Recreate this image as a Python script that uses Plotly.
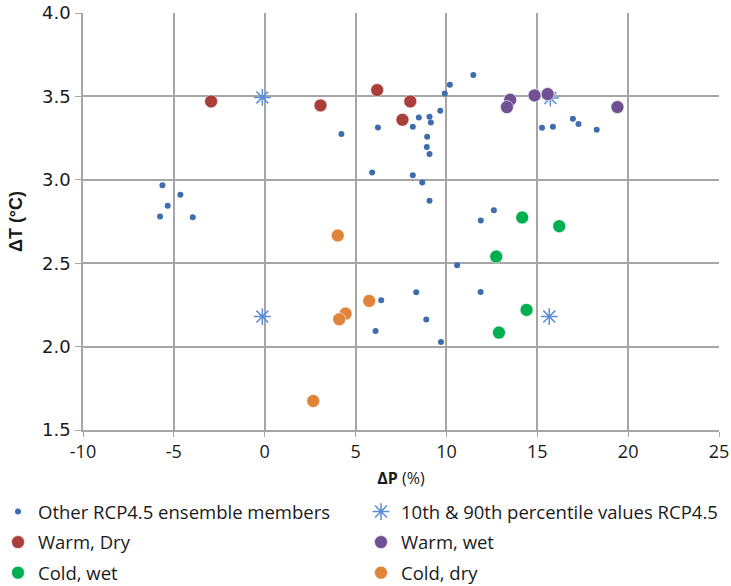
import plotly.graph_objects as go

other_dp = [-5.63, -4.64, -5.34, -5.76, -3.96, 4.22, 5.91, 6.23, 8.15, 8.48, 9.07, 9.14, 8.94, 8.92, 9.07,
            8.15, 8.67, 9.07, 9.66, 9.91, 10.19, 11.48, 12.61, 11.89, 10.59, 8.34, 11.88, 6.41, 8.89, 6.10,
            9.70, 15.26, 15.86, 16.96, 17.27, 18.27]
other_dt = [2.968, 2.91, 2.844, 2.78, 2.776, 3.274, 3.044, 3.314, 3.318, 3.374, 3.378, 3.344, 3.258, 3.196, 3.154,
            3.028, 2.984, 2.874, 3.414, 3.518, 3.57, 3.628, 2.818, 2.756, 2.488, 2.326, 2.328, 2.278, 2.162, 2.094,
            2.028, 3.312, 3.318, 3.366, 3.334, 3.30]

pct_dp = [-0.13, 15.72, -0.13, 15.66]
pct_dt = [3.494, 3.49, 2.18, 2.18]

warm_dry_dp = [-2.95, 3.07, 6.19, 8.01, 7.58]
warm_dry_dt = [3.47, 3.446, 3.538, 3.47, 3.36]

warm_wet_dp = [13.51, 13.33, 14.85, 15.57, 19.41]
warm_wet_dt = [3.48, 3.436, 3.506, 3.514, 3.436]

cold_wet_dp = [14.17, 12.74, 16.21, 14.41, 12.89]
cold_wet_dt = [2.774, 2.54, 2.722, 2.22, 2.084]

cold_dry_dp = [4.02, 5.75, 4.45, 4.10, 2.67]
cold_dry_dt = [2.666, 2.274, 2.198, 2.164, 1.674]

x_ticks = [-10, -5, 0, 5, 10, 15, 20, 25]
y_ticks = [1.5, 2.0, 2.5, 3.0, 3.5, 4.0]

fig = go.Figure()
fig.add_trace(go.Scatter(x=other_dp, y=other_dt, mode="markers", name="Other RCP4.5 ensemble members",
                         legend="legend", legendgroup="a",
                         marker=dict(size=6, color="#3E6DAE")))
fig.add_trace(go.Scatter(x=pct_dp, y=pct_dt, mode="markers", name="10th & 90th percentile values RCP4.5",
                         legend="legend2", legendgroup="b",
                         marker=dict(symbol="asterisk-open", size=14, color="#5B8ED6",
                                     line=dict(color="#5B8ED6", width=1.5))))
big = dict(size=13, line=dict(color="white", width=0.6))
fig.add_trace(go.Scatter(x=warm_dry_dp, y=warm_dry_dt, mode="markers", name="Warm, Dry",
                         legend="legend", legendgroup="c",
                         marker=dict(color="#A83F3B", **big)))
fig.add_trace(go.Scatter(x=warm_wet_dp, y=warm_wet_dt, mode="markers", name="Warm, wet",
                         legend="legend2", legendgroup="d",
                         marker=dict(color="#6F5193", **big)))
fig.add_trace(go.Scatter(x=cold_wet_dp, y=cold_wet_dt, mode="markers", name="Cold, wet",
                         legend="legend", legendgroup="e",
                         marker=dict(color="#00B050", **big)))
fig.add_trace(go.Scatter(x=cold_dry_dp, y=cold_dry_dt, mode="markers", name="Cold, dry",
                         legend="legend2", legendgroup="f",
                         marker=dict(color="#E0843A", **big)))

grid = "#A6A6A6"
L, R, T, B = 83, 12, 13, 156
W, H = 731, 586
pw, ph = W - L - R, H - T - B
leg_common = dict(orientation="v", xanchor="left", xref="paper",
                  y=(H - B - 493) / ph, yanchor="top", yref="paper",
                  font=dict(family="Open Sans", size=18.5, color="#1a1a1a"),
                  tracegroupgap=3.5, bgcolor="rgba(0,0,0,0)")
fig.update_layout(
    width=W, height=H,
    margin=dict(l=L, r=R, t=T, b=B, autoexpand=False),
    paper_bgcolor="white", plot_bgcolor="white",
    font=dict(family="DejaVu Sans", size=18, color="#1a1a1a"),
    xaxis=dict(range=[-10, 25], tickvals=x_ticks, ticktext=[str(v) for v in x_ticks],
               showgrid=True, gridcolor=grid, gridwidth=1.5, zeroline=False,
               showline=True, linecolor=grid, linewidth=1.5, mirror=False,
               ticks="outside", ticklen=5, tickcolor=grid,
               tickfont=dict(family="Open Sans", size=18),
               title=dict(text="<b>ΔP</b> (%)", standoff=10, font=dict(family="Open Sans", size=16))),
    yaxis=dict(range=[1.5, 4.0], tickvals=y_ticks, ticktext=["%.1f" % v for v in y_ticks],
               showgrid=True, gridcolor=grid, gridwidth=1.5, zeroline=False,
               showline=True, linecolor=grid, linewidth=1.5,
               ticks="outside", ticklen=6, tickcolor=grid, ticklabelstandoff=1,
               title=dict(text="<b>ΔT (°C)</b>", standoff=15, font=dict(family="Liberation Sans", size=18))),
    legend=dict(x=(-2 - L) / pw, **leg_common),
    legend2=dict(x=(361 - L) / pw, **leg_common),
    showlegend=True,
)
fig.write_html("out.html", config={"displayModeBar": False},
               post_script="document.body.style.margin='0';document.body.style.padding='0';")
